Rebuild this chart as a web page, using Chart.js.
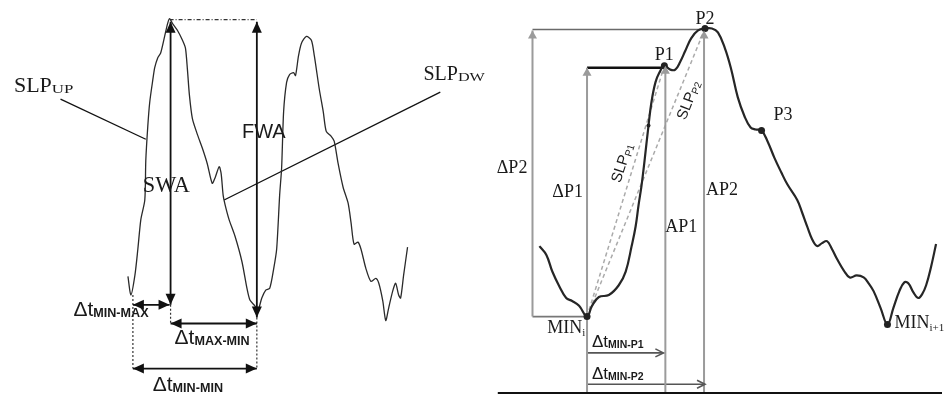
<!DOCTYPE html>
<html><head><meta charset="utf-8">
<script src="https://cdn.jsdelivr.net/npm/chart.js@4.4.1/dist/chart.umd.min.js"></script>
<style>html,body{margin:0;padding:0;background:#fff;overflow:hidden}#wrap{width:946px;height:400px}</style>
</head><body><div id="wrap"><canvas id="c" width="946" height="400"></canvas></div>
<script>
// ---------- data (time units, amplitude units) ----------
const leftWaveTime = [125,128,132,135,138,142,143,145,147,150,152,155,158,162,165,167,170,175,180,183,185,187,190,195,200,205,210,213,217,219,221,223,227,233,240,245,248,253,256,260,264,268,272,275,278,280,282,285,288,292,294,297,300,305,310,313,318,322,325,330,333,337,342,347,350,353,357,360,365,370,375,378,382,385,388,392,395,398,400,403,407];
const leftWaveAmp  = [122,103,123,150,180,200,240,275,300,322,335,345,350,367,380,385,380,373,363,355,333,307,283,267,253,237,217,223,234,227,205,195,180,163,137,110,98,92,87,100,108,110,130,150,205,233,290,320,328,330,327,347,360,367,363,347,313,290,270,265,260,237,213,197,177,155,157,150,130,117,120,115,97,77,90,107,115,103,100,123,152];

const rightWaveTime = [540,547,553,560,567,573,580,588,593,600,610,620,627,633,637,640,643,646,650,653,657,661,666,672,677,682,687,693,700,707,714,720,727,733,740,747,753,758,764,770,777,784,790,800,805,810,815,820,825,830,835,840,847,853,860,867,872,877,884,891,897,903,908,912,917,922,926,930,935,940];
const rightWaveAmp  = [153,144,127,112,100,97,92,81,92,101,103,113,127,153,173,195,215,240,276,300,320,330,337,333,333,341,352,365,373,375,375,371,355,335,305,285,274,272,271,260,243,228,216,200,187,173,160,153,156,158,150,140,128,121,123,121,115,107,90,73,90,107,116,115,106,100,104,113,132,155];

// right-panel feature points: MIN_i, P1, P2, P3, MIN_i+1, mid-upstroke
const featureTime = [588,666,707,764,891,650];
const featureAmp  = [81,337,375,271,73,276];

// left-panel measures
const swaSpan = [168, 93, 382];      // time, from amp, to amp
const fwaSpan = [255, 80, 382];
const peakLevel = [167, 255, 384];   // from time, to time, amp
const dtMinMax = [130, 167, 93];     // from time, to time, amp
const dtMaxMin = [168, 255, 74];
const dtMinMin = [130, 255, 28];
const dropMin1 = [130, 103, 28];     // time, from amp, to amp
const dropMax  = [168, 93, 74];
const dropMin2 = [255, 80, 28];
const slpUpLeader = [57, 303, 143, 262];
const slpDwLeader = [440, 310, 222, 200];

// right-panel measures
const baseLevel = [498, 946, 3];
const dP2Span = [533, 81, 373];
const dP2Top = [533, 707, 374];
const dP2Bottom = [533, 588, 81];
const dP1Span = [588, 3, 335];
const dP1Top = [588, 666, 335];
const ap1Span = [667, 3, 337];
const ap2Span = [706, 3, 373];
const dtMinP1 = [588, 665, 44];
const dtMinP2 = [588, 707, 12];
const slpP1 = [588, 81, 666, 337];
const slpP2 = [588, 81, 707, 375];

// ---------- helpers ----------
const pts = (xs, ys) => xs.map((x, i) => ({x, y: ys[i]}));
const vLine = (s) => [{x: s[0], y: s[1]}, {x: s[0], y: s[2]}];
const hLine = (s) => [{x: s[0], y: s[2]}, {x: s[1], y: s[2]}];
const sLine = (s) => [{x: s[0], y: s[1]}, {x: s[2], y: s[3]}];
function ds(data, color, width, extra) {
  return Object.assign({data, borderColor: color, borderWidth: width, pointRadius: 0, tension: 0, fill: false}, extra || {});
}
const BLK = '#111', GRY = '#9b9b9b', DGRY = '#555';
const leftHead = {style: 'filled', len: 11, half: 5, color: BLK};
const grayHead = {style: 'filled', len: 8, half: 4.5, color: GRY};
const openHead = {style: 'open', len: 8, half: 4, color: DGRY};

const datasets = [
  ds(pts(leftWaveTime, leftWaveAmp), '#2a2a2a', 1.3, {tension: 0.25}),
  ds(pts(rightWaveTime, rightWaveAmp), '#262626', 2.2, {tension: 0.4}),
  // left guides
  ds(vLine(swaSpan), BLK, 1.8, {arrowStart: leftHead, arrowEnd: leftHead}),
  ds(vLine(fwaSpan), BLK, 1.8, {arrowStart: leftHead, arrowEnd: leftHead}),
  ds(hLine(peakLevel), '#333', 1.2, {borderDash: [4, 2, 1, 2]}),
  ds(hLine(dtMinMax), BLK, 1.8, {arrowStart: leftHead, arrowEnd: leftHead}),
  ds(hLine(dtMaxMin), BLK, 1.8, {arrowStart: leftHead, arrowEnd: leftHead}),
  ds(hLine(dtMinMin), BLK, 1.8, {arrowStart: leftHead, arrowEnd: leftHead}),
  ds(vLine(dropMin1), '#333', 1.2, {borderDash: [2, 2]}),
  ds(vLine(dropMax), '#333', 1.2, {borderDash: [2, 2]}),
  ds(vLine(dropMin2), '#333', 1.2, {borderDash: [2, 2]}),
  ds(sLine(slpUpLeader), BLK, 1.3),
  ds(sLine(slpDwLeader), BLK, 1.3),
  // right guides
  ds(hLine(baseLevel), BLK, 2),
  ds(vLine(dP2Span), GRY, 2, {arrowEnd: grayHead}),
  ds(hLine(dP2Top), '#6a6a6a', 1.3),
  ds(hLine(dP2Bottom), '#777', 1.6),
  ds(vLine(dP1Span), GRY, 2, {arrowEnd: grayHead}),
  ds(hLine(dP1Top), BLK, 2.6),
  ds(vLine(ap1Span), GRY, 2, {arrowEnd: grayHead}),
  ds(vLine(ap2Span), GRY, 2, {arrowEnd: grayHead}),
  ds(hLine(dtMinP1), DGRY, 1.6, {arrowEnd: openHead}),
  ds(hLine(dtMinP2), DGRY, 1.6, {arrowEnd: openHead}),
  ds(sLine(slpP1), '#aaa', 1.5, {borderDash: [4, 3]}),
  ds(sLine(slpP2), '#aaa', 1.5, {borderDash: [4, 3]}),
  // feature dots
  {data: pts(featureTime, featureAmp), showLine: false, pointRadius: [3.5,3.5,3.5,3.5,3.5,2], pointBackgroundColor: '#222', pointBorderWidth: 0, order: -1}
];

// ---------- labels (positions in data units) ----------
const SERIF = "'Liberation Serif','DejaVu Serif',serif";
const SANS = "'Liberation Sans',Arial,sans-serif";
const F = (size, fam, bold) => (bold ? 'bold ' : '') + size + 'px ' + fam;
const labels = [
  {x: 10, y: 310, parts: [['SLP', F(22, SERIF)], ['UP', F(13, SERIF), 1, 1.3]]},
  {x: 423, y: 322, parts: [['SLP', F(20, SERIF)], ['DW', F(12, SERIF), 1, 1.35]]},
  {x: 140, y: 208, parts: [['SWA', F(24, SERIF), 0, 0.93]]},
  {x: 240, y: 263, parts: [['FWA', F(20, SANS)]]},
  {x: 70, y: 82, parts: [['\u0394t', F(21, SANS)], ['MIN-MAX', F(12, SANS, true), 1, 1.05]]},
  {x: 172, y: 53, parts: [['\u0394t', F(21, SANS)], ['MAX-MIN', F(12, SANS, true), 1, 1.05]]},
  {x: 150, y: 5, parts: [['\u0394t', F(21, SANS)], ['MIN-MIN', F(12, SANS, true), 1, 1.05]]},
  {x: 707, y: 380, align: 'center', parts: [['P2', F(18, SERIF)]]},
  {x: 666, y: 343, align: 'center', parts: [['P1', F(18, SERIF)]]},
  {x: 776, y: 282, parts: [['P3', F(18, SERIF)]]},
  {x: 497, y: 228, parts: [['\u0394P2', F(18, SERIF)]]},
  {x: 553, y: 203, parts: [['\u0394P1', F(18, SERIF)]]},
  {x: 667, y: 167, parts: [['AP1', F(18, SERIF)]]},
  {x: 708, y: 205, parts: [['AP2', F(18, SERIF)]]},
  {x: 548, y: 64, parts: [['MIN', F(18, SERIF)], ['i', F(11, SERIF), 3]]},
  {x: 898, y: 69, parts: [['MIN', F(18, SERIF)], ['i+1', F(11, SERIF), 3]]},
  {x: 593, y: 50, parts: [['\u0394t', F(17, SANS)], ['MIN-P1', F(10, SANS, true), 1, 1.05]]},
  {x: 593, y: 17, parts: [['\u0394t', F(17, SANS)], ['MIN-P2', F(10, SANS, true), 1, 1.05]]},
  {x: 623, y: 238, align: 'center', angle: -72, parts: [['SLP', F(15, SANS)], ['P1', F(10, SANS), 2]]},
  {x: 690, y: 302, align: 'center', angle: -69, parts: [['SLP', F(15, SANS)], ['P2', F(10, SANS), 2]]}
];

// ---------- plugins ----------
function drawHead(ctx, tip, from, h) {
  const a = Math.atan2(tip.y - from.y, tip.x - from.x);
  ctx.save();
  ctx.translate(tip.x, tip.y); ctx.rotate(a);
  ctx.beginPath();
  ctx.moveTo(-h.len, -h.half); ctx.lineTo(0, 0); ctx.lineTo(-h.len, h.half);
  if (h.style === 'filled') { ctx.closePath(); ctx.fillStyle = h.color; ctx.fill(); }
  else { ctx.strokeStyle = h.color; ctx.lineWidth = 1.6; ctx.setLineDash([]); ctx.stroke(); }
  ctx.restore();
}
const arrowPlugin = {
  id: 'arrows',
  afterDatasetsDraw(chart) {
    const ctx = chart.ctx;
    chart.data.datasets.forEach((d, i) => {
      if (!d.arrowStart && !d.arrowEnd) return;
      const el = chart.getDatasetMeta(i).data;
      const a = el[0], b = el[el.length - 1];
      if (d.arrowEnd) drawHead(ctx, {x: b.x, y: b.y}, {x: a.x, y: a.y}, d.arrowEnd);
      if (d.arrowStart) drawHead(ctx, {x: a.x, y: a.y}, {x: b.x, y: b.y}, d.arrowStart);
    });
  }
};
const labelPlugin = {
  id: 'labels',
  afterDraw(chart) {
    const ctx = chart.ctx, xs = chart.scales.x, ys = chart.scales.y;
    labels.forEach(L => {
      const px = xs.getPixelForValue(L.x), py = ys.getPixelForValue(L.y);
      ctx.save();
      ctx.translate(px, py);
      if (L.angle) ctx.rotate(L.angle * Math.PI / 180);
      ctx.fillStyle = '#1a1a1a';
      ctx.textBaseline = 'alphabetic';
      const w = L.parts.map(p => { ctx.font = p[1]; return ctx.measureText(p[0]).width * (p[3] || 1); });
      const total = w.reduce((s, v) => s + v, 0);
      let cx = L.align === 'center' ? -total / 2 : 0;
      const cy = L.angle ? 5 : 0;
      L.parts.forEach((p, k) => {
        ctx.save();
        ctx.font = p[1];
        ctx.translate(cx, cy + (p[2] || 0));
        ctx.scale(p[3] || 1, 1);
        ctx.fillText(p[0], 0, 0);
        ctx.restore();
        cx += w[k];
      });
      ctx.restore();
    });
  }
};

new Chart(document.getElementById('c'), {
  type: 'line',
  data: {datasets},
  options: {
    responsive: false,
    animation: false,
    devicePixelRatio: 1,
    layout: {padding: 0},
    plugins: {legend: {display: false}, tooltip: {enabled: false}},
    scales: {
      x: {type: 'linear', min: 0, max: 946, display: false},
      y: {type: 'linear', min: 0, max: 400, display: false}
    },
    elements: {line: {capBezierPoints: true}}
  },
  plugins: [arrowPlugin, labelPlugin]
});
</script></body></html>
